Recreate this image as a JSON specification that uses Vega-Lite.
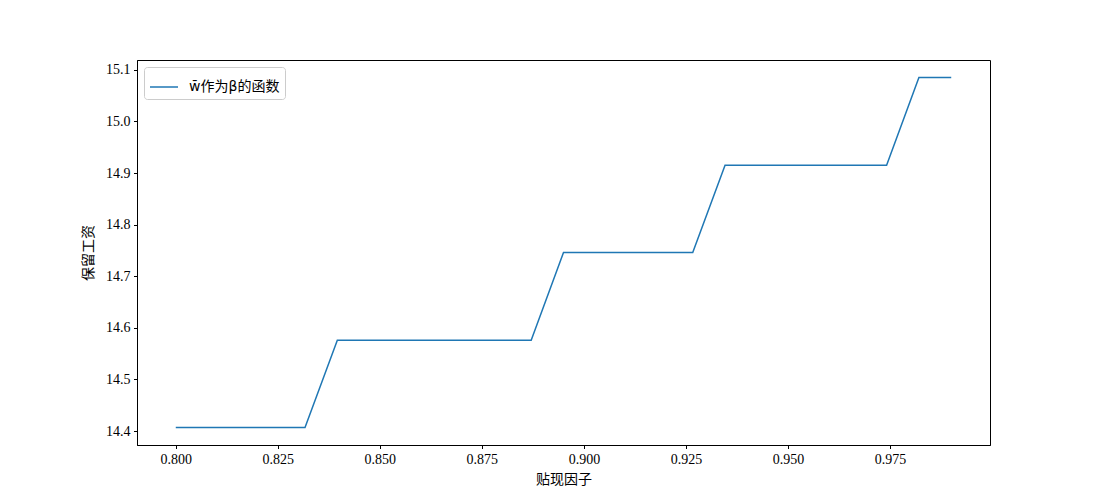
{
  "$schema": "https://vega.github.io/schema/vega-lite/v6.json",
  "width": 853,
  "height": 385,
  "autosize": {"type": "none"},
  "padding": {"left": 137, "top": 60, "right": 110, "bottom": 55},
  "background": "white",
  "config": {
    "view": {"stroke": "#000000", "strokeWidth": 1},
    "font": "Liberation Serif",
    "axis": {
      "grid": false,
      "domainColor": "#000000",
      "tickColor": "#000000",
      "tickSize": 3.5,
      "labelPadding": 3.5,
      "labelFont": "Liberation Serif",
      "labelFontSize": 14,
      "labelColor": "#000000",
      "titleFont": "Noto Sans CJK SC",
      "titleFontSize": 14,
      "titleFontWeight": "normal",
      "titleColor": "#000000"
    }
  },
  "data": {
    "values": [
      {"beta": 0.8, "w": 14.407, "series": "w̄作为β的函数"},
      {"beta": 0.807917, "w": 14.407, "series": "w̄作为β的函数"},
      {"beta": 0.815833, "w": 14.407, "series": "w̄作为β的函数"},
      {"beta": 0.82375, "w": 14.407, "series": "w̄作为β的函数"},
      {"beta": 0.831667, "w": 14.407, "series": "w̄作为β的函数"},
      {"beta": 0.839583, "w": 14.576, "series": "w̄作为β的函数"},
      {"beta": 0.8475, "w": 14.576, "series": "w̄作为β的函数"},
      {"beta": 0.855417, "w": 14.576, "series": "w̄作为β的函数"},
      {"beta": 0.863333, "w": 14.576, "series": "w̄作为β的函数"},
      {"beta": 0.87125, "w": 14.576, "series": "w̄作为β的函数"},
      {"beta": 0.879167, "w": 14.576, "series": "w̄作为β的函数"},
      {"beta": 0.887083, "w": 14.576, "series": "w̄作为β的函数"},
      {"beta": 0.895, "w": 14.746, "series": "w̄作为β的函数"},
      {"beta": 0.902917, "w": 14.746, "series": "w̄作为β的函数"},
      {"beta": 0.910833, "w": 14.746, "series": "w̄作为β的函数"},
      {"beta": 0.91875, "w": 14.746, "series": "w̄作为β的函数"},
      {"beta": 0.926667, "w": 14.746, "series": "w̄作为β的函数"},
      {"beta": 0.934583, "w": 14.915, "series": "w̄作为β的函数"},
      {"beta": 0.9425, "w": 14.915, "series": "w̄作为β的函数"},
      {"beta": 0.950417, "w": 14.915, "series": "w̄作为β的函数"},
      {"beta": 0.958333, "w": 14.915, "series": "w̄作为β的函数"},
      {"beta": 0.96625, "w": 14.915, "series": "w̄作为β的函数"},
      {"beta": 0.974167, "w": 14.915, "series": "w̄作为β的函数"},
      {"beta": 0.982083, "w": 15.085, "series": "w̄作为β的函数"},
      {"beta": 0.99, "w": 15.085, "series": "w̄作为β的函数"}
    ]
  },
  "mark": {"type": "line", "strokeWidth": 1.5, "clip": true},
  "encoding": {
    "x": {
      "field": "beta",
      "type": "quantitative",
      "scale": {"domain": [0.7905, 0.9995], "nice": false, "zero": false},
      "axis": {
        "title": "贴现因子",
        "values": [0.8, 0.825, 0.85, 0.875, 0.9, 0.925, 0.95, 0.975],
        "format": ".3f",
        "titlePadding": 6
      }
    },
    "y": {
      "field": "w",
      "type": "quantitative",
      "scale": {"domain": [14.3731, 15.1189], "nice": false, "zero": false},
      "axis": {
        "title": "保留工资",
        "values": [14.4, 14.5, 14.6, 14.7, 14.8, 14.9, 15.0, 15.1],
        "format": ".1f",
        "titlePadding": 10
      }
    },
    "color": {
      "field": "series",
      "type": "nominal",
      "scale": {"range": ["#1f77b4"]},
      "legend": {
        "title": null,
        "orient": "top-left",
        "offset": 7,
        "symbolType": "stroke",
        "symbolSize": 784,
        "symbolStrokeWidth": 1.5,
        "labelFont": "DejaVu Sans, Noto Sans CJK SC",
        "labelFontSize": 14,
        "labelOffset": 10,
        "labelColor": "#000000",
        "padding": 5,
        "strokeColor": "#cccccc",
        "fillColor": "#ffffff",
        "cornerRadius": 3
      }
    }
  }
}
